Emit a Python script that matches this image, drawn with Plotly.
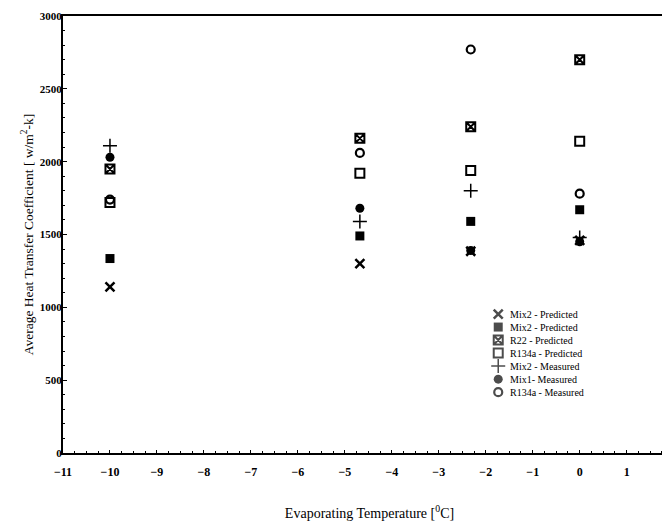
import plotly.graph_objects as go

temps = [-10, -4.68, -2.32, 0]
mix2_pred_x = [1140, 1300, 1385, 1460]
mix2_pred_sq = [1335, 1490, 1590, 1670]
r22_pred = [1950, 2160, 2240, 2700]
r134a_pred = [1720, 1920, 1940, 2140]
mix2_meas = [2110, 1590, 1800, 1480]
mix1_meas = [2030, 1680, 1390, 1450]
r134a_meas = [1740, 2060, 2770, 1780]

x_ticks = list(range(-11, 3))
y_ticks = list(range(0, 3001, 500))

series = [
    ("Mix2 - Predicted", mix2_pred_x, "x-thin-open", 9, 2.5),
    ("Mix2 - Predicted", mix2_pred_sq, "square", 9, 0),
    ("R22 - Predicted", r22_pred, "square-x-open", 9, 2),
    ("R134a - Predicted", r134a_pred, "square-open", 9, 2),
    ("Mix2 - Measured", mix2_meas, "cross-thin-open", 10, 1.5),
    ("Mix1- Measured", mix1_meas, "circle", 9, 0),
    ("R134a - Measured", r134a_meas, "circle-open", 8, 2.2),
]

X_RANGE = [-11, 2.05]

fig = go.Figure()
for name, ys, sym, sz, lw in series:
    fig.add_trace(go.Scatter(
        x=temps, y=ys, mode="markers", name=name, showlegend=False,
        marker=dict(symbol=sym, size=sz, color="black",
                    line=dict(color="black", width=lw)),
    ))

# compact legend (keys on an overlay 0..1 axis, labels as annotations)
LEG_X, LEG_TXT_X, LEG_Y0, LEG_DY = 0.71, 0.726, 0.318, 0.0298
leg_y = [LEG_Y0 - i * LEG_DY for i in range(len(series))]
fig.add_trace(go.Scatter(
    x=[LEG_X] * len(series), y=leg_y, mode="markers", showlegend=False,
    xaxis="x2", yaxis="y2", hoverinfo="skip",
    marker=dict(symbol=[s[2] for s in series], size=[s[3] for s in series],
                color="black", line=dict(color="black", width=[s[4] for s in series])),
))
for (name, *_), yy in zip(series, leg_y):
    fig.add_annotation(x=LEG_TXT_X, y=yy, xref="paper", yref="paper", text=name,
                       showarrow=False, xanchor="left", yanchor="middle",
                       font=dict(size=10, family="Liberation Serif", color="black"))

fig.update_layout(
    width=670, height=529,
    margin=dict(l=55, r=0, t=8, b=84),
    paper_bgcolor="white", plot_bgcolor="white",
    font=dict(family="Liberation Serif", color="black", size=12),
    showlegend=False,
    xaxis=dict(
        range=X_RANGE, tickvals=x_ticks,
        showline=True, linecolor="black", linewidth=2, mirror=True,
        ticks="inside", ticklen=3, tickcolor="black", showgrid=False, zeroline=False,
        minor=dict(dtick=0.25, ticks="inside", ticklen=2, tickcolor="black"),
        tickfont=dict(size=12, family="Liberation Serif", weight="bold"),
        ticklabelstandoff=7,
        title=dict(text="Evaporating Temperature [<sup>0</sup>C]", font=dict(size=14), standoff=30),
    ),
    yaxis=dict(
        range=[0, 3000], tickvals=y_ticks,
        showline=True, linecolor="black", linewidth=2, mirror=True,
        ticks="inside", ticklen=4, tickcolor="black", showgrid=False, zeroline=False,
        minor=dict(dtick=100, ticks="inside", ticklen=2, tickcolor="black"),
        tickfont=dict(size=11, family="Liberation Serif", weight="bold"),
        ticklabelstandoff=-3,
        title=dict(text="Average Heat Transfer Coefficient [ w/m<sup>2</sup>-k]", font=dict(size=13.5), standoff=3),
    ),
    xaxis2=dict(overlaying="x", range=[0, 1], visible=False, fixedrange=True),
    yaxis2=dict(overlaying="y", range=[0, 1], visible=False, fixedrange=True),
)

fig.write_html("out.html")
